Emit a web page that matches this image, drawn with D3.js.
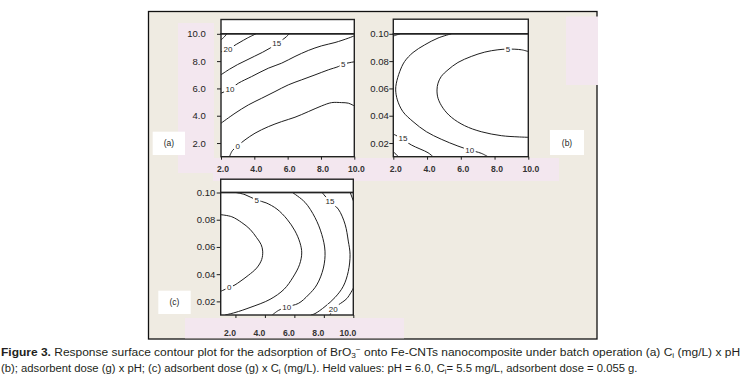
<!DOCTYPE html>
<html>
<head>
<meta charset="utf-8">
<script src="https://cdn.jsdelivr.net/npm/d3@7"></script>
<style>
body { margin: 0; background: #fff; }
svg { display: block; }
</style>
</head>
<body>
<svg id="fig" width="743" height="381"></svg>
<script>
// tick values
const phTicks = [2, 4, 6, 8, 10];
const ciTicks = [2, 4, 6, 8, 10];
const doseTicks = [0.02, 0.04, 0.06, 0.08, 0.10];

// contour lines: level, label spot [x, y] and points [x, y]
// (a) x = pH, y = Ci (mg/L)
const contoursA = [
  { level: 0, at: [3.0, 1.8], pts: [[2.51, 1.0], [2.68, 1.44], [3.0, 1.8], [3.44, 2.23], [4.04, 2.72], [4.84, 3.2], [5.64, 3.57], [6.44, 3.89], [7.24, 4.3], [8.04, 4.72], [8.64, 4.96], [9.24, 4.96], [9.64, 4.92], [10, 4.72]] },
  { level: 5, at: [9.34, 7.8], pts: [[2.0, 3.45], [2.84, 4.18], [3.64, 4.79], [4.44, 5.28], [5.24, 5.77], [6.04, 6.26], [6.84, 6.63], [7.64, 6.99], [8.44, 7.36], [9.04, 7.6], [9.34, 7.78], [10, 7.95]] },
  { level: 10, at: [2.54, 5.95], pts: [[2.0, 5.65], [2.54, 5.95], [3.04, 6.38], [3.84, 6.87], [4.84, 7.48], [5.64, 7.85], [6.44, 8.34], [7.24, 8.78], [8.04, 9.12], [8.84, 9.36], [9.64, 9.68], [10, 9.85]] },
  { level: 15, at: [5.34, 9.3], pts: [[2.0, 7.0], [2.5, 7.4], [3.0, 7.75], [3.5, 8.05], [4.0, 8.35], [4.5, 8.65], [4.94, 8.95], [5.34, 9.3], [5.84, 9.7], [6.1, 10]] },
  { level: 20, at: [2.42, 8.85], pts: [[2.0, 8.68], [2.42, 8.88], [3.08, 9.34], [3.6, 9.7], [4.1, 10]] },
  { level: 25, at: null, pts: [[2.0, 9.55], [2.2, 9.78], [2.35, 10]] }
];
// (b) x = pH, y = adsorbent dose (g)
const contoursB = [
  { level: 5, at: [8.8, 0.0888], pts: [[10, 0.087], [9.59, 0.0883], [8.8, 0.0888], [8.2, 0.0883], [7.42, 0.0866], [6.62, 0.0834], [5.83, 0.079], [5.24, 0.0736], [4.84, 0.0687], [4.65, 0.0638], [4.59, 0.0589], [4.65, 0.0528], [4.95, 0.0455], [5.44, 0.0389], [6.23, 0.0327], [7.21, 0.0283], [8.4, 0.0254], [9.39, 0.0245], [10, 0.0242]] },
  { level: 10, at: [6.53, 0.0149], pts: [[5.44, 0.1], [4.65, 0.0969], [3.86, 0.0919], [3.17, 0.0863], [2.67, 0.0797], [2.38, 0.0723], [2.18, 0.0638], [2.14, 0.0589], [2.24, 0.0516], [2.57, 0.043], [3.17, 0.0357], [3.96, 0.0283], [4.84, 0.0228], [5.83, 0.0178], [6.53, 0.0149], [7.21, 0.0125], [7.61, 0.01]] },
  { level: 15, at: [2.57, 0.0232], pts: [[2.0, 0.0266], [2.57, 0.0228], [3.07, 0.0186], [4.06, 0.0129], [4.35, 0.01]] },
  { level: 15, at: null, pts: [[2.0, 0.0983], [2.2, 0.0992], [2.4, 0.1]] },
  { level: 20, at: null, pts: [[2.0, 0.0135], [2.1, 0.0125], [2.3, 0.01]] }
];
// (c) x = Ci (mg/L), y = adsorbent dose (g)
const contoursC = [
  { level: 0, at: [1.58, 0.0302], pts: [[1.0, 0.0837], [1.75, 0.0822], [2.43, 0.0779], [2.99, 0.073], [3.44, 0.0668], [3.74, 0.0618], [3.85, 0.0569], [3.78, 0.0507], [3.44, 0.0445], [2.87, 0.0391], [2.31, 0.0346], [1.97, 0.0321], [1.58, 0.0302], [1.0, 0.0274]] },
  { level: 5, at: [3.44, 0.0945], pts: [[2.04, 0.1], [2.65, 0.0984], [3.44, 0.0945], [4.08, 0.0924], [4.82, 0.0878], [5.5, 0.0804], [6.04, 0.0718], [6.38, 0.0631], [6.5, 0.0556], [6.35, 0.047], [5.91, 0.0378], [5.3, 0.0289], [4.35, 0.0215], [2.99, 0.0155], [1.97, 0.0118], [1.3, 0.01]] },
  { level: 10, at: [5.48, 0.016], pts: [[5.87, 0.1], [6.72, 0.0928], [7.4, 0.0816], [7.86, 0.0692], [8.08, 0.0569], [7.97, 0.0445], [7.52, 0.0321], [6.95, 0.0247], [6.27, 0.0185], [5.48, 0.016], [4.91, 0.0133], [4.5, 0.01]] },
  { level: 15, at: [8.42, 0.0933], pts: [[7.88, 0.1], [8.42, 0.0933], [8.98, 0.0878], [9.44, 0.0767], [9.66, 0.0643], [9.78, 0.0544], [9.66, 0.042], [9.32, 0.0311], [8.76, 0.0229], [8.08, 0.0162], [7.4, 0.011], [7.13, 0.01]] },
  { level: 20, at: null, pts: [[9.79, 0.1], [10, 0.0939]] },
  { level: 20, at: [8.64, 0.0146], pts: [[10, 0.0297], [9.57, 0.0222], [9.0, 0.0175], [8.64, 0.0146], [8.42, 0.01]] }
];

const beige = "#efebe2";
const pink = "#f3e7ef";
const ink = "#1e1e1e";

const svg = d3.select("#fig");

// frame and the pasted background pieces
svg.append("rect").attr("x", 148.5).attr("y", 11.5).attr("width", 448.5).attr("height", 327.5)
  .attr("fill", beige).attr("stroke", "#111").attr("stroke-width", 1.3);
svg.append("rect").attr("x", 178).attr("y", 23).attr("width", 36).attr("height", 150).attr("fill", pink);
svg.append("rect").attr("x", 213).attr("y", 158).attr("width", 346).attr("height", 23).attr("fill", pink);
svg.append("rect").attr("x", 566).attr("y", 16.5).attr("width", 32).attr("height", 68.5).attr("fill", pink);
svg.append("rect").attr("x", 185).attr("y", 318).attr("width", 219).attr("height", 20.3).attr("fill", pink);

// panel tags
const tags = [["(a)", 152.7, 131.7, 32.3, 23.3], ["(b)", 550, 130, 34, 25], ["(c)", 158.3, 290.7, 32.4, 23.3]];
tags.forEach(t => {
  svg.append("rect").attr("x", t[1]).attr("y", t[2]).attr("width", t[3]).attr("height", t[4]).attr("fill", "#fff");
  svg.append("text").attr("x", t[1] + t[3] / 2).attr("y", t[2] + t[4] / 2 + 3)
    .attr("text-anchor", "middle").attr("font-family", "Liberation Sans, Arial, sans-serif")
    .attr("font-size", 8.5).attr("fill", ink).text(t[0]);
});

function drawPanel(id, x, y, titleTop, contours, xTicks, yTicks, yFmt, yPad, xLabOff, xLabDx) {
  const [x0, x1] = x.range();
  const [y1, y0] = y.range();
  const g = svg.append("g");

  // white plot area and the empty title box on top of it
  g.append("rect").attr("x", x0).attr("y", y0).attr("width", x1 - x0).attr("height", y1 - y0).attr("fill", "#fff");
  g.append("rect").attr("x", x0).attr("y", titleTop).attr("width", x1 - x0).attr("height", y0 - titleTop)
    .attr("fill", "#fff").attr("stroke", "#222").attr("stroke-width", 1.4);

  g.append("clipPath").attr("id", "clip" + id)
    .append("rect").attr("x", x0).attr("y", y0).attr("width", x1 - x0).attr("height", y1 - y0);

  const line = d3.line().x(d => x(d[0])).y(d => y(d[1])).curve(d3.curveCatmullRom.alpha(0.5));
  const plot = g.append("g").attr("clip-path", "url(#clip" + id + ")");
  plot.selectAll("path.c").data(contours).enter()
    .append("path").attr("class", "c")
    .attr("d", d => line(d.pts))
    .attr("fill", "none").attr("stroke", ink).attr("stroke-width", 1);

  // inline level labels, with a white gap cut into the line
  const labelled = contours.filter(d => d.at);
  const lab = plot.selectAll("g.lab").data(labelled).enter().append("g").attr("class", "lab")
    .attr("transform", d => "translate(" + x(d.at[0]) + "," + y(d.at[1]) + ")");
  lab.append("rect")
    .attr("x", d => -(String(d.level).length * 4.4 + 3) / 2).attr("y", -4.5)
    .attr("width", d => String(d.level).length * 4.4 + 3).attr("height", 9).attr("fill", "#fff");
  lab.append("text").attr("text-anchor", "middle").attr("dy", "0.35em")
    .attr("font-family", "Liberation Sans, Arial, sans-serif").attr("font-size", 8)
    .attr("fill", ink).text(d => d.level);

  // frame of the plot
  g.append("rect").attr("x", x0).attr("y", y0).attr("width", x1 - x0).attr("height", y1 - y0)
    .attr("fill", "none").attr("stroke", "#222").attr("stroke-width", 1.4);

  // axes
  const ya = g.append("g").attr("transform", "translate(" + x0 + ",0)")
    .call(d3.axisLeft(y).tickValues(yTicks).tickSize(4).tickPadding(yPad).tickFormat(yFmt));
  ya.select(".domain").remove();
  ya.selectAll("line").attr("stroke", ink);
  ya.selectAll("text").attr("font-family", "Liberation Sans, Arial, sans-serif")
    .attr("font-size", 9.5).attr("fill", "#222");

  const xa = g.append("g").attr("transform", "translate(0," + y1 + ")")
    .call(d3.axisBottom(x).tickValues(xTicks).tickSize(3).tickFormat(d3.format(".1f")));
  xa.select(".domain").remove();
  xa.selectAll("line").attr("stroke", ink);
  xa.selectAll("text").attr("y", xLabOff).attr("dy", "0.35em").attr("dx", xLabDx)
    .attr("font-family", "Liberation Sans, Arial, sans-serif").attr("font-weight", "bold")
    .attr("font-size", 8.6).attr("fill", "#333");
}

const xA = d3.scaleLinear().domain([2, 10]).range([221, 354.3]);
const yA = d3.scaleLinear().domain([1, 10]).range([156.7, 33.8]);
drawPanel("A", xA, yA, 19.5, contoursA, phTicks, ciTicks, d3.format(".1f"), 11.3, 12.6, 1.5);

const xB = d3.scaleLinear().domain([2, 10]).range([393.3, 528.3]);
const yB = d3.scaleLinear().domain([0.01, 0.10]).range([156.7, 33.8]);
drawPanel("B", xB, yB, 19.2, contoursB, phTicks, doseTicks, d3.format(".2f"), 0.5, 12.6, 2);

const xC = d3.scaleLinear().domain([1, 10]).range([220.7, 353.3]);
const yC = d3.scaleLinear().domain([0.01, 0.10]).range([315, 192.5]);
drawPanel("C", xC, yC, 179.2, contoursC, ciTicks, doseTicks, d3.format(".2f"), 1.4, 18.3, -6);

// caption: natural glyph advance, then squeezed sideways to the width of the original lines
const cap = svg.append("g").attr("font-family", "Liberation Sans, Arial, sans-serif")
  .attr("font-size", 11.5).attr("fill", "#231f20");

function capLine(yPos, width, parts) {
  const t = cap.append("text").attr("x", 0).attr("y", 0);
  parts.forEach(p => {
    const s = t.append("tspan").text(p.t);
    if (p.bold) s.attr("font-weight", "bold");
    if (p.sub) s.attr("font-size", 8).attr("baseline-shift", "-2.5");
    if (p.sup) s.attr("font-size", 8).attr("baseline-shift", "4");
  });
  const w = t.node().getComputedTextLength();
  t.attr("transform", "translate(1," + yPos + ") scale(" + (width / w) + ",1)");
}

capLine(355.5, 740, [
  { t: "Figure 3.", bold: true },
  { t: " Response surface contour plot for the adsorption of BrO" },
  { t: "3", sub: true },
  { t: "\u2212", sup: true },
  { t: " onto Fe-CNTs nanocomposite under batch operation (a) C" },
  { t: "i", sub: true },
  { t: " (mg/L) x pH" }
]);
capLine(371.5, 637, [
  { t: "(b); adsorbent dose (g) x pH; (c) adsorbent dose (g) x C" },
  { t: "i", sub: true },
  { t: " (mg/L). Held values: pH = 6.0, C" },
  { t: "i", sub: true },
  { t: "= 5.5 mg/L, adsorbent dose = 0.055 g." }
]);
</script>
</body>
</html>
